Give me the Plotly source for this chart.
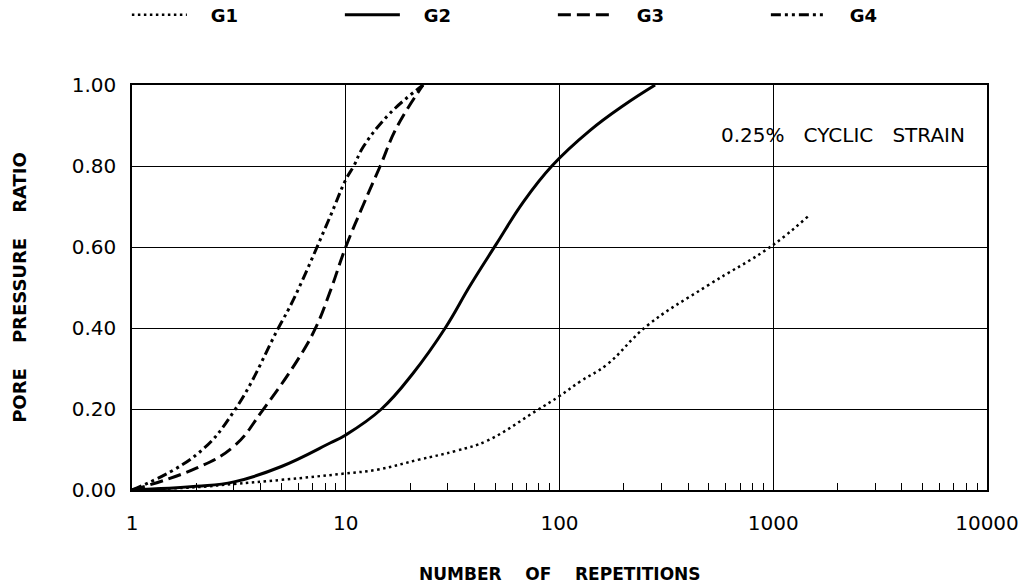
import plotly.graph_objects as go

# ---- data ----
series_names = ["G1", "G2", "G3", "G4"]

n_g1 = [1, 2, 3, 5, 10, 14, 22, 33, 46, 77, 100, 125, 167, 256, 490, 968, 1450]
r_g1 = [0, 0.007, 0.015, 0.025, 0.041, 0.05, 0.075, 0.097, 0.122, 0.194, 0.232, 0.268, 0.31, 0.405, 0.504, 0.60, 0.675]

n_g2 = [1, 2, 3, 5, 8.45, 10, 14.7, 20.7, 29.2, 38.2, 50.6, 67.9, 92.1, 139, 200, 280]
r_g2 = [0, 0.009, 0.02, 0.058, 0.116, 0.136, 0.20, 0.289, 0.40, 0.505, 0.607, 0.712, 0.80, 0.888, 0.95, 1.0]

n_g3 = [1, 2, 3, 4.1, 6.1, 7.3, 8.45, 10, 12.1, 14.5, 17.3, 23]
r_g3 = [0, 0.054, 0.108, 0.198, 0.33, 0.405, 0.49, 0.60, 0.705, 0.80, 0.895, 1.0]

n_g4 = [1, 2, 3.03, 4.84, 5.69, 8.45, 10, 10.9, 12.1, 16.1, 23]
r_g4 = [0, 0.087, 0.198, 0.40, 0.47, 0.675, 0.766, 0.80, 0.848, 0.93, 1.0]

x_tick_vals = [1, 10, 100, 1000, 10000]
x_tick_text = ["1", "10", "100", "1000", "10000"]

annotation_text = "0.25%\u00a0\u00a0\u00a0CYCLIC\u00a0\u00a0\u00a0STRAIN"
x_title = "NUMBER\u00a0\u00a0\u00a0\u00a0OF\u00a0\u00a0\u00a0\u00a0REPETITIONS"
y_title = "PORE\u00a0\u00a0\u00a0\u00a0PRESSURE\u00a0\u00a0\u00a0\u00a0RATIO"
legend_pad = "\u00a0\u00a0\u00a0"

styles = {
    "G1": dict(width=2.5, dash="2.5px,3.5px"),
    "G2": dict(width=3, dash="solid"),
    "G3": dict(width=3, dash="13px,6px"),
    "G4": dict(width=3, dash="10px,4px,3px,4px,3px,4px"),
}
data = {"G1": (n_g1, r_g1), "G2": (n_g2, r_g2), "G3": (n_g3, r_g3), "G4": (n_g4, r_g4)}

fig = go.Figure()
for name in series_names:
    xs, ys = data[name]
    st = styles[name]
    fig.add_trace(go.Scatter(
        x=xs, y=ys, mode="lines", name=legend_pad + name,
        line=dict(color="black", width=st["width"], dash=st["dash"],
                  shape="spline", smoothing=1.2),
    ))

minor_vals = [m * 10 ** k for k in range(4) for m in range(2, 10)]

fig.update_layout(
    width=1029, height=586,
    paper_bgcolor="white", plot_bgcolor="white",
    margin=dict(l=132, r=42, t=85, b=96, autoexpand=False),
    font=dict(family="DejaVu Sans", color="black"),
    showlegend=True,
    legend=dict(
        orientation="h", xref="paper", yref="paper",
        x=-0.006, y=1 + 70 / 405, xanchor="left", yanchor="middle",
        entrywidth=143, entrywidthmode="pixels", itemwidth=55,
        font=dict(family="DejaVu Sans", size=18, weight="bold", color="black"),
        bgcolor="rgba(0,0,0,0)",
    ),
    xaxis=dict(
        type="log", range=[0, 4],
        tickmode="array", tickvals=x_tick_vals, ticktext=x_tick_text,
        ticks="", ticklabelstandoff=14,
        tickfont=dict(size=20, family="DejaVu Sans"),
        showgrid=True, gridcolor="black", gridwidth=1,
        showline=True, linecolor="black", linewidth=1.5, mirror=True,
        zeroline=False,
        minor=dict(tickmode="array", tickvals=minor_vals, ticks="inside",
                   ticklen=7, tickwidth=1, tickcolor="black", showgrid=False),
    ),
    yaxis=dict(
        range=[0, 1], dtick=0.2, tickformat=".2f",
        ticks="", ticklabelstandoff=10,
        tickfont=dict(size=20, family="DejaVu Sans"),
        showgrid=True, gridcolor="black", gridwidth=1,
        showline=True, linecolor="black", linewidth=1.5, mirror=True,
        zeroline=False,
        title=dict(text=y_title, standoff=40,
                   font=dict(size=18, family="DejaVu Sans", weight="bold")),
    ),
    annotations=[
        dict(text=annotation_text, xref="paper", yref="y",
             x=0.977, y=0.877, xanchor="right", yanchor="middle",
             showarrow=False, font=dict(size=20, family="DejaVu Sans", color="black")),
        dict(text=x_title, xref="paper", yref="paper",
             x=0.5, y=-(574 - 490) / 405, xanchor="center", yanchor="middle",
             showarrow=False, font=dict(size=17, family="DejaVu Sans", weight="bold", color="black")),
    ],
)

fig.write_html("out.html")
